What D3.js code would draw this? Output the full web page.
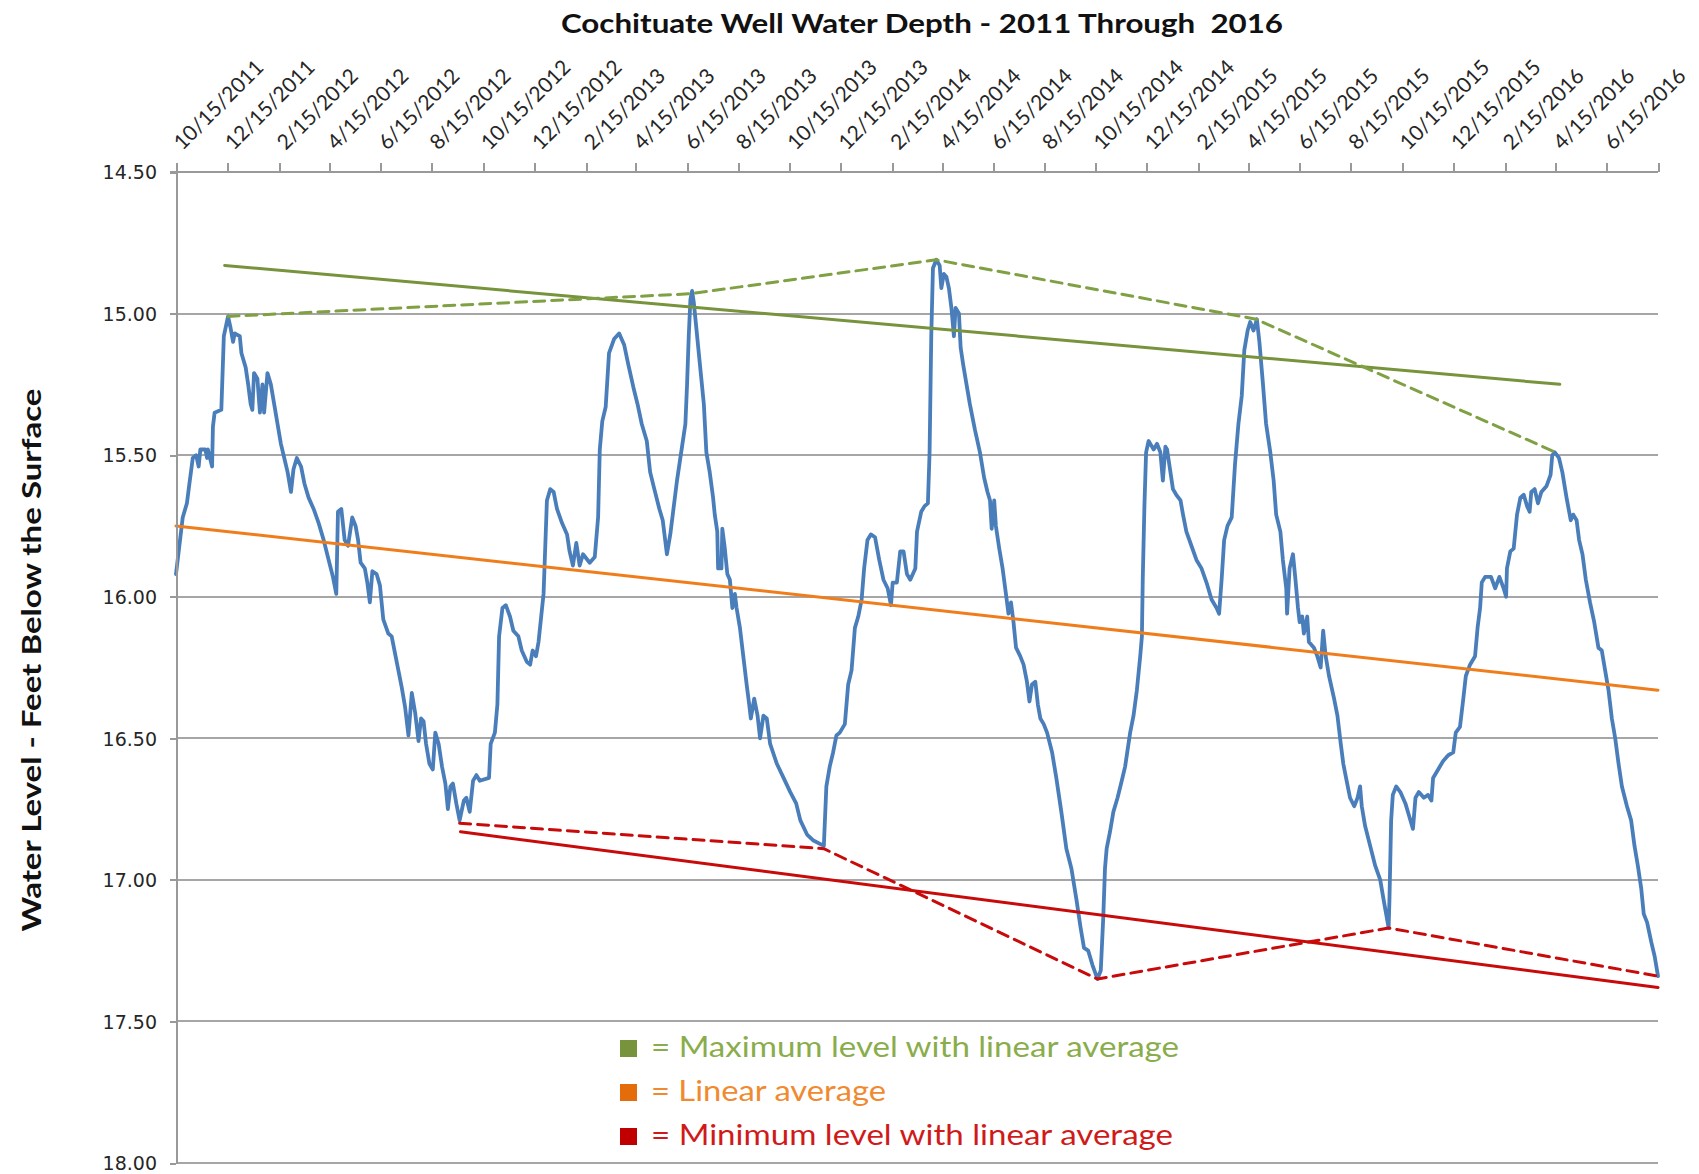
<!DOCTYPE html>
<html>
<head>
<meta charset="utf-8">
<script src="https://cdn.jsdelivr.net/npm/d3@7"></script>
<style>
  body { margin: 0; background: #fff; }
  svg { display: block; }
  .grid line { stroke: #a6a6a6; stroke-width: 2px; shape-rendering: crispEdges; }
  .axis path, .axis line { stroke: #999; stroke-width: 2px; fill: none; shape-rendering: crispEdges; }
  .x.axis text { font: 21px Lato, sans-serif; fill: #262626; }
  .y.axis text { font: 19px "DejaVu Sans", sans-serif; fill: #262626; }
  path.series { fill: none; stroke-linejoin: round; stroke-linecap: round; }
</style>
</head>
<body>
<svg id="chart"></svg>
<script>
// well readings: days since first reading (10/15/2011) and depth below surface (ft)
var startDate = "2011-10-15";
var endDate = "2016-08-15";

var tickLabels = ["10/15/2011", "12/15/2011", "2/15/2012", "4/15/2012", "6/15/2012", "8/15/2012",
  "10/15/2012", "12/15/2012", "2/15/2013", "4/15/2013", "6/15/2013", "8/15/2013", "10/15/2013",
  "12/15/2013", "2/15/2014", "4/15/2014", "6/15/2014", "8/15/2014", "10/15/2014", "12/15/2014",
  "2/15/2015", "4/15/2015", "6/15/2015", "8/15/2015", "10/15/2015", "12/15/2015", "2/15/2016",
  "4/15/2016", "6/15/2016"];

var depthTicks = [14.5, 15, 15.5, 16, 16.5, 17, 17.5, 18];

var readingDay = [
  0,8,13,16,20,24,27,29,35,37,38,43,44,46,54,57,62,65,68,70,
  76,78,83,86,89,91,93,97,100,103,105,109,113,117,121,125,129,133,137,140,
  144,149,153,158,164,170,176,181,187,191,193,197,201,205,210,214,217,220,225,228,
  231,234,239,243,247,253,257,261,265,269,273,277,281,285,289,292,295,298,302,306,
  309,313,317,321,324,327,330,334,338,343,346,350,354,358,362,373,375,380,383,385,
  389,393,398,402,408,412,418,422,425,429,432,438,442,446,450,454,460,466,469,473,
  477,481,485,493,499,503,505,508,512,516,522,528,534,539,545,550,555,561,565,570,
  576,580,585,589,597,603,607,609,611,613,615,617,621,625,629,632,636,640,642,645,
  646,650,651,654,657,660,663,666,668,672,676,680,683,685,689,693,696,700,704,708,
  716,724,732,739,744,752,759,772,775,779,783,787,791,797,801,805,809,813,817,820,
  824,828,833,838,843,848,852,854,859,863,867,871,875,881,883,888,892,896,898,900,
  902,906,910,912,915,918,921,924,927,929,933,935,938,942,946,952,958,963,967,970,
  972,975,977,981,985,989,992,995,998,1001,1006,1010,1014,1017,1020,1024,1027,1030,1034,1038,
  1044,1049,1055,1061,1067,1073,1078,1082,1087,1092,1098,1102,1105,1107,1109,1113,1117,1122,1127,1131,
  1134,1137,1141,1145,1149,1151,1152,1154,1156,1159,1163,1165,1169,1173,1176,1179,1181,1184,1188,1192,
  1197,1200,1204,1210,1216,1222,1228,1234,1240,1243,1246,1249,1253,1258,1262,1266,1270,1273,1277,1280,
  1284,1288,1291,1295,1299,1304,1308,1311,1316,1319,1323,1324,1327,1331,1334,1337,1339,1342,1344,1348,
  1350,1356,1360,1364,1367,1370,1374,1380,1384,1388,1391,1395,1399,1404,1408,1411,1413,1417,1423,1429,
  1435,1439,1445,1446,1448,1450,1454,1459,1465,1469,1474,1477,1481,1487,1492,1496,1498,1504,1510,1516,
  1522,1525,1530,1534,1537,1542,1548,1551,1554,1556,1560,1567,1572,1577,1582,1585,1586,1590,1594,1598,
  1602,1606,1610,1613,1615,1619,1623,1627,1633,1638,1640,1643,1648,1652,1657,1662,1665,1669,1672,1676,
  1680,1685,1690,1695,1699,1703,1707,1711,1715,1719,1723,1729,1734,1738,1742,1746,1749,1753,1758,1762,
  1766
];

var depthFt = [
  15.92,15.72,15.67,15.60,15.51,15.50,15.54,15.48,15.48,15.51,15.48,15.54,15.40,15.35,15.34,15.08,15.01,15.05,15.10,15.07,
  15.08,15.14,15.19,15.25,15.32,15.34,15.21,15.23,15.35,15.25,15.35,15.21,15.25,15.32,15.39,15.46,15.51,15.56,15.63,15.55,
  15.51,15.54,15.60,15.65,15.69,15.74,15.80,15.86,15.93,15.99,15.70,15.69,15.80,15.82,15.72,15.75,15.80,15.88,15.90,15.95,
  16.02,15.91,15.92,15.96,16.08,16.13,16.14,16.20,16.26,16.32,16.39,16.49,16.34,16.41,16.51,16.43,16.44,16.52,16.59,16.61,
  16.48,16.52,16.60,16.66,16.75,16.67,16.66,16.73,16.79,16.72,16.71,16.76,16.65,16.63,16.65,16.64,16.52,16.48,16.38,16.14,
  16.04,16.03,16.07,16.12,16.14,16.19,16.23,16.24,16.19,16.21,16.16,15.99,15.66,15.62,15.63,15.69,15.74,15.78,15.84,15.89,
  15.81,15.89,15.85,15.88,15.86,15.72,15.48,15.38,15.33,15.14,15.09,15.07,15.11,15.18,15.26,15.32,15.39,15.45,15.56,15.62,
  15.69,15.73,15.85,15.78,15.59,15.47,15.39,15.25,15.08,14.95,14.92,14.96,15.08,15.20,15.32,15.49,15.56,15.65,15.71,15.77,
  15.90,15.90,15.76,15.83,15.92,15.94,16.04,15.99,16.04,16.11,16.21,16.31,16.38,16.43,16.36,16.42,16.50,16.42,16.43,16.52,
  16.59,16.64,16.69,16.73,16.79,16.84,16.86,16.88,16.67,16.60,16.55,16.49,16.48,16.45,16.31,16.26,16.11,16.07,16.01,15.90,
  15.80,15.78,15.79,15.87,15.94,15.97,16.03,15.95,15.95,15.84,15.84,15.92,15.94,15.90,15.77,15.70,15.68,15.67,15.49,15.08,
  14.84,14.81,14.83,14.91,14.86,14.87,14.91,14.98,15.08,14.98,15.00,15.12,15.18,15.25,15.32,15.41,15.49,15.58,15.63,15.66,
  15.76,15.66,15.75,15.83,15.90,15.99,16.06,16.02,16.09,16.18,16.21,16.24,16.30,16.37,16.31,16.30,16.38,16.43,16.45,16.48,
  16.55,16.64,16.76,16.89,16.96,17.07,17.17,17.24,17.25,17.30,17.35,17.32,17.13,16.96,16.89,16.83,16.76,16.71,16.65,16.60,
  16.54,16.48,16.42,16.33,16.21,16.14,15.94,15.68,15.49,15.45,15.47,15.48,15.46,15.49,15.59,15.47,15.48,15.54,15.62,15.64,
  15.66,15.71,15.77,15.82,15.87,15.90,15.95,16.01,16.04,16.06,15.94,15.80,15.75,15.72,15.53,15.39,15.29,15.13,15.06,15.03,
  15.06,15.02,15.10,15.24,15.39,15.49,15.59,15.71,15.77,15.87,15.97,16.06,15.90,15.85,15.94,16.04,16.09,16.07,16.13,16.07,
  16.16,16.18,16.21,16.25,16.12,16.21,16.28,16.36,16.42,16.52,16.59,16.65,16.71,16.74,16.71,16.67,16.74,16.81,16.88,16.95,
  17.00,17.07,17.17,17.07,16.79,16.70,16.67,16.69,16.73,16.77,16.82,16.71,16.69,16.71,16.70,16.72,16.64,16.61,16.58,16.56,
  16.55,16.48,16.46,16.36,16.28,16.24,16.21,16.11,16.04,15.95,15.93,15.93,15.97,15.93,15.97,16.00,15.90,15.84,15.83,15.71,
  15.65,15.64,15.68,15.70,15.63,15.62,15.67,15.63,15.61,15.57,15.50,15.49,15.51,15.56,15.65,15.73,15.71,15.73,15.80,15.85,
  15.94,16.02,16.09,16.18,16.19,16.26,16.33,16.43,16.50,16.59,16.67,16.74,16.79,16.88,16.95,17.03,17.12,17.15,17.22,17.27,
  17.34
];

// seasonal highs (smallest depth) and lows, with their straight-line averages
var maxDay = [62, 613, 906, 1287, 1644];
var maxDepth = [15.01, 14.93, 14.81, 15.02, 15.49];
var maxTrendDay = [58, 1649];
var maxTrendDepth = [14.83, 15.25];

var avgTrendDay = [0, 1766];
var avgTrendDepth = [15.75, 16.33];

var minDay = [338, 772, 1098, 1445, 1766];
var minDepth = [16.80, 16.89, 17.35, 17.17, 17.34];
var minTrendDay = [339, 1766];
var minTrendDepth = [16.83, 17.38];

var legendItems = ["= Maximum level with linear average", "= Linear average", "= Minimum level with linear average"];
var legendSwatch = ["#77933c", "#e46c0a", "#c00000"];
var legendText = ["#8aad4c", "#f08a30", "#d01a1a"];

var W = 1699, H = 1174;
var margin = {top: 172, right: 41, bottom: 11, left: 176};
var width = W - margin.left - margin.right;
var height = H - margin.top - margin.bottom;

var parse = d3.timeParse("%Y-%m-%d");
var parseTick = d3.timeParse("%m/%d/%Y");
var t0 = parse(startDate);
var dayDate = function(d) { return d3.timeDay.offset(t0, d); };

var x = d3.scaleTime().domain([t0, parse(endDate)]).range([0, width]);
var y = d3.scaleLinear().domain([14.5, 18]).range([0, height]);

var svg = d3.select("#chart").attr("width", W).attr("height", H);
var g = svg.append("g").attr("transform", "translate(" + margin.left + "," + margin.top + ")");

// horizontal gridlines
g.append("g").attr("class", "grid")
  .selectAll("line").data(depthTicks.slice(1)).enter().append("line")
  .attr("x1", 0).attr("x2", width)
  .attr("y1", function(d) { return y(d); }).attr("y2", function(d) { return y(d); });

var zip = function(days, vals) { return days.map(function(d, i) { return [dayDate(d), vals[i]]; }); };
var line = d3.line().x(function(d) { return x(d[0]); }).y(function(d) { return y(d[1]); });

g.append("path").attr("class", "series").datum(zip(readingDay, depthFt))
  .attr("d", line).attr("stroke", "#4a7ebb").attr("stroke-width", 3.8);

g.append("path").attr("class", "series").datum(zip(avgTrendDay, avgTrendDepth))
  .attr("d", line).attr("stroke", "#f07d1c").attr("stroke-width", 3);

g.append("path").attr("class", "series").datum(zip(maxTrendDay, maxTrendDepth))
  .attr("d", line).attr("stroke", "#77933c").attr("stroke-width", 3);
g.append("path").attr("class", "series").datum(zip(maxDay, maxDepth))
  .attr("d", line).attr("stroke", "#80a044").attr("stroke-width", 3)
  .attr("stroke-linecap", "butt").attr("stroke-dasharray", "11,7");

g.append("path").attr("class", "series").datum(zip(minTrendDay, minTrendDepth))
  .attr("d", line).attr("stroke", "#c80a0a").attr("stroke-width", 3);
g.append("path").attr("class", "series").datum(zip(minDay, minDepth))
  .attr("d", line).attr("stroke", "#c80a0a").attr("stroke-width", 3)
  .attr("stroke-linecap", "butt").attr("stroke-dasharray", "11,7");

// axes
var xTicks = tickLabels.map(function(s) { return parseTick(s); }).concat([parse(endDate)]);
var xAxis = d3.axisTop(x).tickValues(xTicks).tickSize(9).tickSizeOuter(0)
  .tickFormat(function(d, i) { return tickLabels[i] || ""; });
var gx = g.append("g").attr("class", "x axis").call(xAxis);
gx.select(".domain").attr("d", "M-6,0H" + width);
gx.selectAll("text")
  .attr("x", 0).attr("y", 0).attr("dy", 0)
  .style("text-anchor", "start")
  .attr("transform", "translate(6,-21) rotate(-45)");

var yAxis = d3.axisLeft(y).tickValues(depthTicks).tickSize(6).tickSizeOuter(0)
  .tickFormat(d3.format(".2f"));
var gy = g.append("g").attr("class", "y axis").call(yAxis);
gy.selectAll("text").attr("x", -19).attr("dy", "0.36em");

// titles
svg.append("text").attr("x", 922).attr("y", 33)
  .attr("text-anchor", "middle")
  .attr("textLength", 722).attr("lengthAdjust", "spacingAndGlyphs")
  .style("font", "bold 27px Lato, sans-serif").style("fill", "#111")
  .style("white-space", "pre")
  .text("Cochituate Well Water Depth - 2011 Through  2016");

svg.append("text")
  .attr("transform", "translate(41,660) rotate(-90)")
  .attr("text-anchor", "middle")
  .attr("textLength", 543).attr("lengthAdjust", "spacingAndGlyphs")
  .style("font", "bold 27px Lato, sans-serif").style("fill", "#111")
  .text("Water Level - Feet Below the Surface");

// legend inside the plot
var legendLen = [528, 235, 522];
var leg = svg.append("g").attr("transform", "translate(620,1040)");
legendItems.forEach(function(name, i) {
  var row = leg.append("g").attr("transform", "translate(0," + (i * 44) + ")");
  row.append("rect").attr("width", 17).attr("height", 17).attr("fill", legendSwatch[i]);
  row.append("text").attr("x", 31).attr("y", 17)
    .attr("textLength", legendLen[i]).attr("lengthAdjust", "spacingAndGlyphs")
    .style("font", "28px Lato, sans-serif").style("fill", legendText[i])
    .text(name);
});
</script>
</body>
</html>
